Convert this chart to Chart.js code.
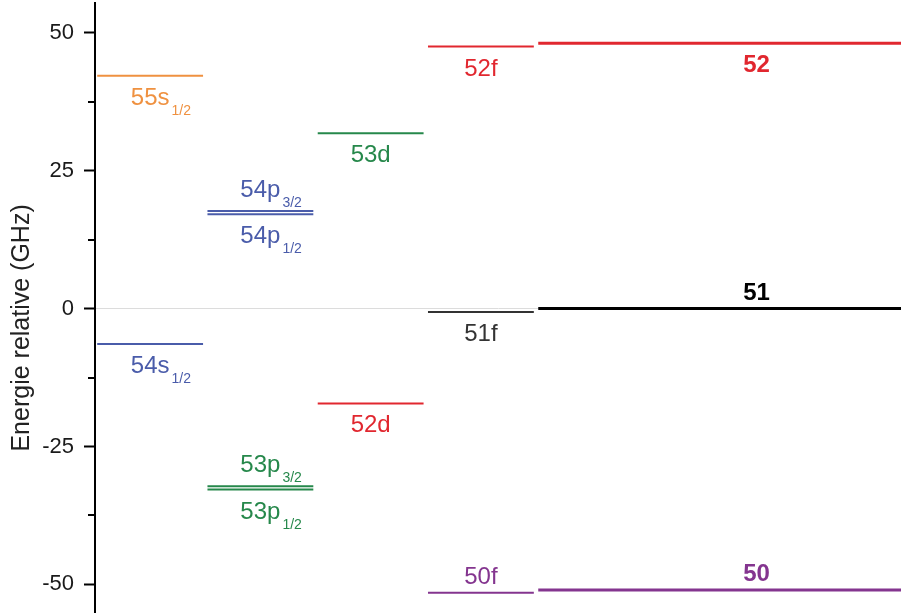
<!DOCTYPE html>
<html>
<head>
<meta charset="utf-8">
<script src="https://cdn.jsdelivr.net/npm/chart.js@4.4.1/dist/chart.umd.min.js"></script>
<style>
  html, body { margin: 0; padding: 0; background: #fff; }
  canvas { display: block; }
</style>
</head>
<body>
<canvas id="levels" width="901" height="615"></canvas>
<script>
// Rydberg levels near the 51 hydrogenic manifold (energies in GHz)
const levelNames    = ['55s', '54s', '54p', '54p', '53p', '53p', '53d', '52d', '52f', '51f', '50f', '52', '51', '50'];
const levelSubs     = ['1/2', '1/2', '3/2', '1/2', '3/2', '1/2', '', '', '', '', '', '', '', ''];
const levelEnergies = [42.2, -6.4, 17.7, 17.1, -32.2, -32.8, 31.8, -17.2, 47.5, -0.6, -51.5, 48.1, 0, -51.0];
const levelColumns  = [0, 0, 1, 1, 1, 1, 2, 2, 3, 3, 3, 4, 4, 4];
const majorTicks    = [-50, -25, 0, 25, 50];
const minorTicks    = [-37.5, -12.5, 12.5, 37.5];
const axisTitle     = 'Energie relative (GHz)';

// Presentation of each level
const levelColors = ['#ef9140', '#4a5caa', '#4a5caa', '#4a5caa', '#26884b', '#26884b', '#26884b',
                     '#e1272f', '#e1272f', '#333333', '#84358f', '#e1272f', '#000000', '#84358f'];
const labelAbove  = [false, false, true, false, true, false, false, false, false, false, true, false, true, true];
const manifoldCol = 4;

const FONT = '"Liberation Sans", Arial, Helvetica, sans-serif';

function colStart(c) { return c + 0.02; }
function colEnd(c) { return c === manifoldCol ? 8 : c + 0.98; }
function colCenter(c) { return c === manifoldCol ? 6 : c + 0.5; }

const datasets = levelEnergies.map((e, i) => ({
  label: levelNames[i] + levelSubs[i],
  data: [{ x: colStart(levelColumns[i]), y: e }, { x: colEnd(levelColumns[i]), y: e }],
  borderColor: levelColors[i],
  borderWidth: levelColumns[i] === manifoldCol ? 3 : 2,
  pointRadius: 0,
  fill: false,
  tension: 0
}));

// Level names with subscripts (j values)
const levelLabels = {
  id: 'levelLabels',
  afterDatasetsDraw(chart) {
    const { ctx, scales: { x, y } } = chart;
    ctx.save();
    levelEnergies.forEach((e, i) => {
      const col = levelColumns[i];
      const xc = x.getPixelForValue(colCenter(col));
      const yp = y.getPixelForValue(e);
      const bold = col === manifoldCol;
      const hasSub = levelSubs[i] !== '';
      const base = labelAbove[i] ? yp - (hasSub ? 14 : 9) : yp + 29;
      ctx.fillStyle = levelColors[i];
      ctx.textBaseline = 'alphabetic';
      ctx.font = (bold ? 'bold ' : '') + '24px ' + FONT;
      ctx.textAlign = 'center';
      ctx.fillText(levelNames[i], xc, base);
      if (hasSub) {
        const w = ctx.measureText(levelNames[i]).width;
        ctx.font = '14px ' + FONT;
        ctx.textAlign = 'left';
        ctx.fillText(levelSubs[i], xc + w / 2 + 2, base + 10);
      }
    });
    ctx.restore();
  }
};

// Short intermediate ticks and the rotated axis title
const axisExtras = {
  id: 'axisExtras',
  afterDraw(chart) {
    const { ctx, scales: { y }, chartArea } = chart;
    ctx.save();
    ctx.strokeStyle = '#000';
    ctx.lineWidth = 2;
    minorTicks.forEach(v => {
      const yp = Math.round(y.getPixelForValue(v));
      ctx.beginPath();
      ctx.moveTo(chartArea.left - 7, yp);
      ctx.lineTo(chartArea.left, yp);
      ctx.stroke();
    });
    ctx.translate(22, y.getPixelForValue(-3.5));
    ctx.rotate(-Math.PI / 2);
    ctx.fillStyle = '#222';
    ctx.font = '25px ' + FONT;
    ctx.textAlign = 'center';
    ctx.textBaseline = 'middle';
    ctx.fillText(axisTitle, 0, 0);
    ctx.restore();
  }
};

new Chart(document.getElementById('levels'), {
  type: 'line',
  data: { datasets },
  options: {
    responsive: false,
    animation: false,
    layout: { padding: { top: 3, bottom: 3, left: 0, right: 0 } },
    plugins: { legend: { display: false }, tooltip: { enabled: false } },
    scales: {
      x: { type: 'linear', min: 0, max: 7.31, display: false },
      y: {
        type: 'linear',
        min: -55,
        max: 55.4,
        afterBuildTicks(scale) { scale.ticks = majorTicks.map(v => ({ value: v })); },
        afterFit(scale) {
          scale.width = 95;
          scale.paddingTop = 0;
          scale.paddingBottom = 0;
        },
        border: { display: true, color: '#000', width: 2 },
        grid: {
          drawOnChartArea: true,
          color: c => (c.tick && c.tick.value === 0 ? '#dcdcdc' : 'rgba(0,0,0,0)'),
          lineWidth: 1,
          tickColor: '#000',
          tickWidth: 2,
          tickLength: 11
        },
        ticks: {
          color: '#1a1a1a',
          padding: 10,
          font: { family: FONT, size: 22 },
          callback: v => String(v)
        },
        title: { display: false }
      }
    }
  },
  plugins: [levelLabels, axisExtras]
});
</script>
</body>
</html>
